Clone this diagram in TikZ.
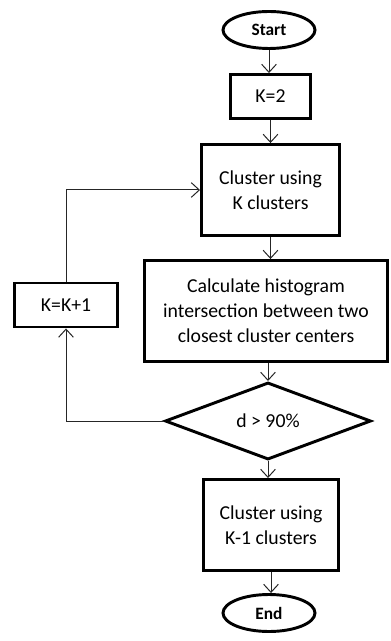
\documentclass[tikz,border=0pt]{standalone}
\usepackage{fontspec}
\setmainfont{Carlito}
\usetikzlibrary{positioning, arrows.meta, calc, shapes.geometric}

\begin{document}
\begin{tikzpicture}[
    x=0.75pt, y=-0.75pt,
    >={Straight Barb[length=6pt, width=11pt, line width=0.75pt]},
    font=\fontsize{14.8}{18.75}\selectfont,
    box/.style={
        draw, line width=2.2pt, align=center, inner sep=2pt
    },
    stepBox/.style={box, rectangle},
    termBox/.style={box, ellipse, minimum width=69pt, minimum height=27.75pt,
        inner sep=0pt, font=\fontsize{13}{15}\selectfont\bfseries},
    testBox/.style={box, diamond, minimum width=154.5pt, minimum height=48.75pt,
        inner sep=0pt},
    flow/.style={->, line width=0.75pt, draw=black!85}
]
\useasboundingbox (0,0) rectangle (391,641);

\node[termBox] (start) at (269, 30) {Start};
\node[stepBox, minimum width=60pt, minimum height=33pt] (kinit) at (270.5, 96.5) {K=2};
\node[stepBox, minimum width=103.5pt, minimum height=68.25pt] (clusterK) at (270.5, 190) {Cluster using\\K clusters};
\node[stepBox, minimum width=182.25pt, minimum height=75.75pt] (hist) at (266, 311) {Calculate histogram\\intersection between two\\closest cluster centers};
\node[stepBox, minimum width=77.25pt, minimum height=33pt] (kinc) at (66, 305) {K=K+1};
\node[testBox] (cond) at (268, 421) {d > 90\%};
\node[stepBox, minimum width=101.25pt, minimum height=68.25pt] (clusterKm) at (271, 525) {Cluster using\\K-1 clusters};
\node[termBox] (finish) at (269, 613) {End};

\draw[flow] (start) -- (start |- kinit.north);
\draw[flow] (kinit) -- (kinit |- clusterK.north);
\draw[flow] (clusterK) -- (clusterK |- hist.north);
\draw[flow] (hist.south -| cond.north) -- (cond.north);
\draw[flow] (cond) -- (cond |- clusterKm.north);
\draw[flow] (clusterKm) -- (clusterKm |- finish.north);

% loop back while the test holds
\draw[flow] (cond.west) -| (kinc.south);
\draw[flow] (kinc.north) |- (clusterK.west);

\end{tikzpicture}
\end{document}
